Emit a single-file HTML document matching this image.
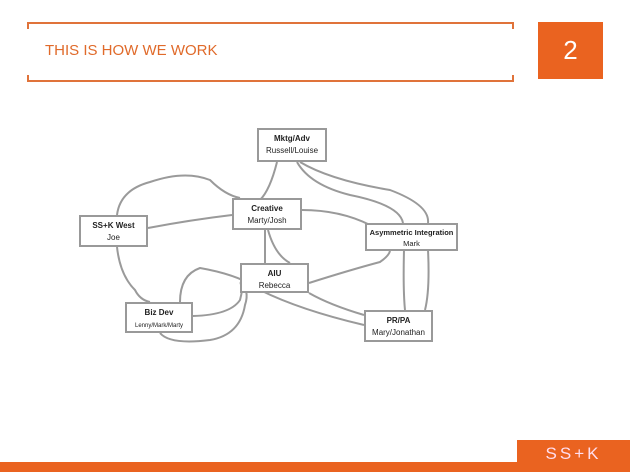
<!DOCTYPE html>
<html><head><style>
body{margin:0;width:630px;height:472px;background:#fff;position:relative;overflow:hidden;font-family:"Liberation Sans",sans-serif}
.br{position:absolute;left:27px;top:22px;width:487px;height:56px;border-top:2px solid #e0733a;border-bottom:2px solid #e0733a}
.br:before,.br:after{content:"";position:absolute;top:0;width:2px;height:56px;background:linear-gradient(#e0733a 0 5px,transparent 5px calc(100% - 5px),#e0733a calc(100% - 5px))}
.br:before{left:0}.br:after{right:0}
.t{position:absolute;left:45px;top:42px;color:#e06a2a;font-size:15px;letter-spacing:0}
.num{position:absolute;left:538px;top:22px;width:65px;height:57px;background:#ea6320;color:#fff;font-size:26px;text-align:center;line-height:57px}
.logo{position:absolute;left:517px;top:440px;width:113px;height:32px;background:#ea6320;color:#fde;font-size:17px;letter-spacing:3px;text-align:center;line-height:28px}
.bar{position:absolute;left:0;top:462px;width:630px;height:10px;background:#ea6320}
.n{position:absolute;border:2px solid #999;background:#fff;text-align:center;font-size:8px;color:#222;box-sizing:border-box;line-height:12px;padding-top:3px;white-space:nowrap}
.n b{font-size:8px}
</style></head><body>
<div class="br"></div><div class="t">THIS IS HOW WE WORK</div>
<div class="num">2</div>
<svg style="position:absolute;left:0;top:0" width="630" height="472" fill="none" stroke="#9a9a9a" stroke-width="2">
<path d="M277 162 Q270 190 260 200"/>
<path d="M297 162 Q310 185 350 195 Q400 205 403 223"/>
<path d="M300 162 Q330 180 390 190 Q430 205 428 223"/>
<path d="M302 210 Q340 210 370 225"/>
<path d="M148 228 Q190 220 232 215"/>
<path d="M117 215 Q120 190 150 182 Q185 170 210 180 Q225 195 240 198"/>
<path d="M117 247 Q120 275 135 290 Q140 300 150 302"/>
<path d="M265 230 Q265 250 265 263"/>
<path d="M268 230 Q275 255 290 263"/>
<path d="M309 283 Q350 270 380 262 Q390 255 390 250"/>
<path d="M404 250 Q403 290 405 310"/>
<path d="M428 250 Q430 290 425 310"/>
<path d="M309 293 Q330 305 364 315"/>
<path d="M193 316 Q230 315 240 300 Q245 280 240 283"/>
<path d="M180 302 Q180 275 200 268 Q240 275 260 290 Q300 310 364 325"/>
<path d="M160 333 Q170 345 210 340 Q240 335 245 305 Q250 290 240 283"/>
</svg>
<div class="n" style="left:257px;top:128px;width:70px;height:34px"><b>Mktg/Adv</b><br>Russell/Louise</div>
<div class="n" style="left:232px;top:198px;width:70px;height:32px"><b>Creative</b><br>Marty/Josh</div>
<div class="n" style="left:79px;top:215px;width:69px;height:32px"><b>SS+K West</b><br>Joe</div>
<div class="n" style="left:365px;top:223px;width:93px;height:28px;line-height:11px;padding-top:2px;font-size:7.5px"><b style="font-size:7.5px">Asymmetric Integration</b><br>Mark</div>
<div class="n" style="left:240px;top:263px;width:69px;height:30px"><b>AIU</b><br>Rebecca</div>
<div class="n" style="left:125px;top:302px;width:68px;height:31px"><b>Biz Dev</b><br><span style="font-size:6px">Lenny/Mark/Marty</span></div>
<div class="n" style="left:364px;top:310px;width:69px;height:32px"><b>PR/PA</b><br>Mary/Jonathan</div>
<div class="bar"></div><div class="logo">SS+K</div>
</body></html>
